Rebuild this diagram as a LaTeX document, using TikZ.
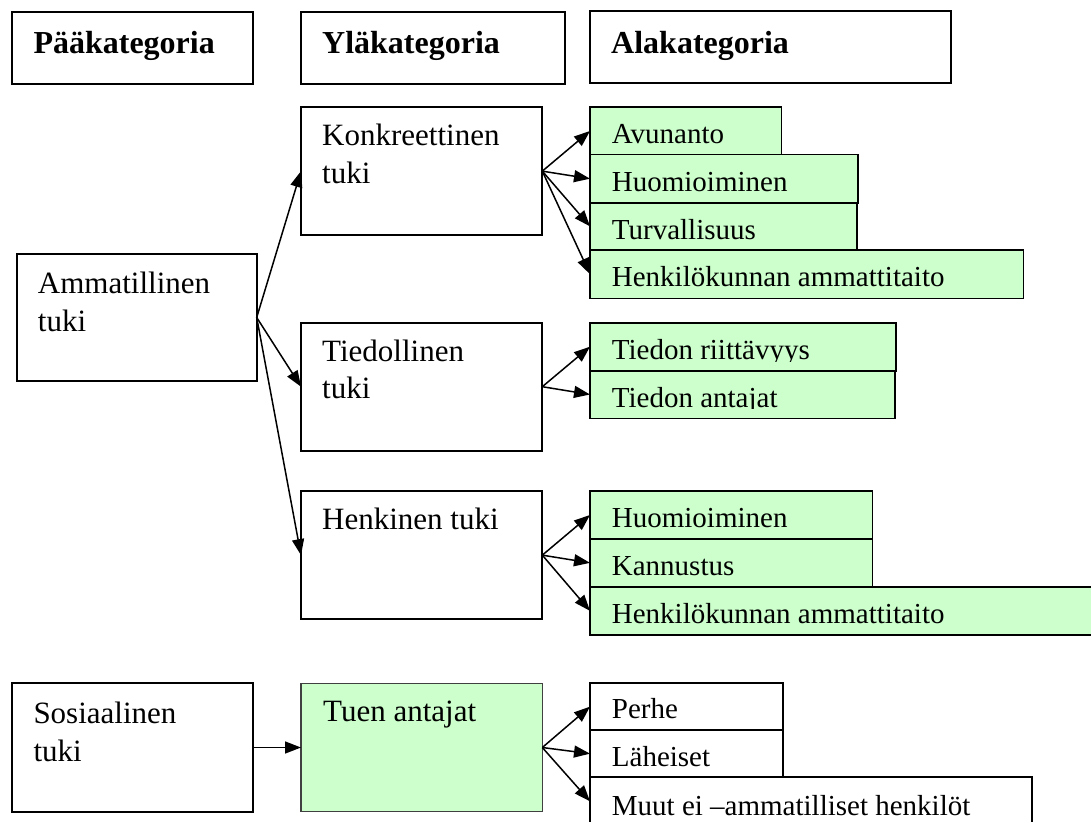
\documentclass[tikz,border=0pt]{standalone}
\usepackage{fontspec}
\setmainfont{Liberation Serif}
\usetikzlibrary{arrows.meta,calc}
\definecolor{lgreen}{RGB}{204,255,204}
\tikzset{
  box/.style={draw=black, line width=2pt, anchor=north west, inner sep=0pt, outer sep=0pt},
  gbox/.style={draw=black, line width=1.6pt, fill=lgreen, anchor=north west, inner sep=0pt, outer sep=0pt},
  wbox/.style={draw=black, line width=1.7pt, fill=white, anchor=north west, inner sep=0pt, outer sep=0pt},
  txt/.style={anchor=base west, inner sep=0pt, align=left, font=\fontsize{29}{37.7}\selectfont},
  btxt/.style={anchor=base west, inner sep=0pt, align=left, font=\fontsize{31}{37.7}\selectfont},
  htxt/.style={anchor=base west, inner sep=0pt, font=\fontsize{32}{37}\selectfont\bfseries},
  arr/.style={line width=1.5pt, -{Triangle[length=16pt,width=12pt]}}
}
\begin{document}
\begin{tikzpicture}[x=1pt,y=-1pt]
\useasboundingbox (0,0) rectangle (1091,821);
% header boxes
\node[box, minimum width=241pt, minimum height=72.3pt] (hP) at (12.3,11.7) {};
\node[box, minimum width=264pt, minimum height=72.3pt] (hY) at (301,11.7) {};
\node[box, minimum width=361pt, minimum height=71.5pt] (hA) at (590,11.5) {};
\node[htxt] (thP) at ($(hP.north west)+(21,41.6)$) {Pääkategoria};
\node[htxt] (thY) at ($(hY.north west)+(21,41.6)$) {Yläkategoria};
\node[htxt] (thA) at ($(hA.north west)+(21,41.6)$) {Alakategoria};
% main category / upper category boxes
\node[box, minimum width=240pt, minimum height=127pt] (amm) at (16.7,254) {};
\node[box, minimum width=241.3pt, minimum height=127.7pt] (kon) at (301,107.3) {};
\node[box, minimum width=241.3pt, minimum height=128pt] (tie) at (301,322.7) {};
\node[box, minimum width=241.3pt, minimum height=128.3pt] (hen) at (301,491) {};
\node[box, minimum width=241pt, minimum height=128.4pt] (sos) at (12.3,683.3) {};
\node[gbox, draw=black!75, line width=1.5pt, minimum width=241.3pt, minimum height=128.4pt] (tuen) at (301,683.3) {};
\node[btxt] (tamm) at ($(amm.north west)+(21,77)$) {Ammatillinen\\tuki};
\node[btxt] (tkon) at ($(kon.north west)+(21,76.1)$) {Konkreettinen\\tuki};
\node[btxt] (ttie) at ($(tie.north west)+(21,76.1)$) {Tiedollinen\\tuki};
\node[btxt] (then) at ($(hen.north west)+(21,38.4)$) {Henkinen tuki};
\node[btxt] (tsos) at ($(sos.north west)+(21,77.7)$) {Sosiaalinen\\tuki};
\node[btxt] (ttuen) at ($(tuen.north west)+(22,38.4)$) {Tuen antajat};
% sub category boxes
\node[gbox, minimum width=191.3pt, minimum height=47.4pt] (a1) at (590,107.3) {};
\node[gbox, minimum width=267.7pt, minimum height=48pt] (a2) at (590,154.7) {};
\node[gbox, minimum width=266.7pt, minimum height=47.3pt] (a3) at (590,202.7) {};
\node[gbox, minimum width=433.3pt, minimum height=48.3pt] (a4) at (590,250) {};
\node[gbox, minimum width=305.7pt, minimum height=48pt] (b1) at (590,322.7) {};
\node[gbox, minimum width=304.7pt, minimum height=47.6pt] (b2) at (590,370.7) {};
\node[gbox, minimum width=282.3pt, minimum height=48pt] (c1) at (590,491) {};
\node[gbox, minimum width=282.3pt, minimum height=47.7pt] (c2) at (590,539) {};
\node[gbox, minimum width=520pt, minimum height=48.3pt] (c3) at (590,586.7) {};
\node[wbox, minimum width=192.7pt, minimum height=46.7pt] (d1) at (590,683.3) {};
\node[wbox, minimum width=192.7pt, minimum height=47.3pt] (d2) at (590,730) {};
\node[wbox, minimum width=441.7pt, minimum height=48pt] (d3) at (590,777.3) {};
\node[txt] (ta1) at ($(a1.north west)+(21.7,36.3)$) {Avunanto};
\node[txt] (ta2) at ($(a2.north west)+(21.7,36.5)$) {Huomioiminen};
\node[txt] (ta3) at ($(a3.north west)+(21.7,36.5)$) {Turvallisuus};
\node[txt] (ta4) at ($(a4.north west)+(21.7,36.7)$) {Henkilökunnan ammattitaito};
\begin{scope}
\clip (590,322.7) rectangle (895.7,361);
\node[txt] (tb1) at ($(b1.north west)+(21.7,36.5)$) {Tiedon riittävyys};
\end{scope}
\begin{scope}
\clip (590,370.7) rectangle (894.7,408.5);
\node[txt] (tb2) at ($(b2.north west)+(21.7,36.5)$) {Tiedon antajat};
\end{scope}
\node[txt] (tc1) at ($(c1.north west)+(21.7,36.5)$) {Huomioiminen};
\node[txt] (tc2) at ($(c2.north west)+(21.7,36.5)$) {Kannustus};
\node[txt] (tc3) at ($(c3.north west)+(21.7,36.5)$) {Henkilökunnan ammattitaito};
\node[txt] (td1) at ($(d1.north west)+(21.7,35.5)$) {Perhe};
\node[txt] (td2) at ($(d2.north west)+(21.7,36)$) {Läheiset};
\node[txt] (td3) at ($(d3.north west)+(21.7,38)$) {Muut ei –ammatilliset henkilöt};
% connectors
\draw[arr] (amm.east) -- (kon.west);
\draw[arr] (amm.east) -- (tie.west);
\draw[arr] (amm.east) -- (hen.west);
\draw[arr] (kon.east) -- (a1.west);
\draw[arr] (kon.east) -- (a2.west);
\draw[arr] (kon.east) -- (a3.west);
\draw[arr] (kon.east) -- (a4.west);
\draw[arr] (tie.east) -- (b1.west);
\draw[arr] (tie.east) -- (b2.west);
\draw[arr] (hen.east) -- (c1.west);
\draw[arr] (hen.east) -- (c2.west);
\draw[arr] (hen.east) -- (c3.west);
\draw[arr] (sos.east) -- (tuen.west);
\draw[arr] (tuen.east) -- (d1.west);
\draw[arr] (tuen.east) -- (d2.west);
\draw[arr] (tuen.east) -- (d3.west);
\end{tikzpicture}
\end{document}
